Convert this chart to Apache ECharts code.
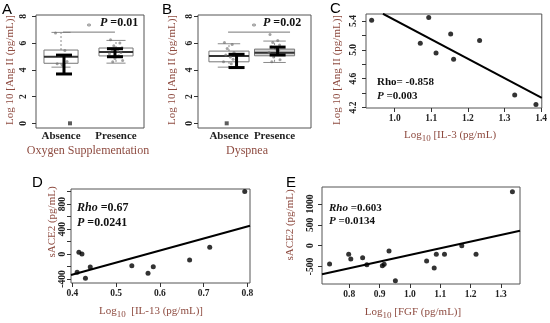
<!DOCTYPE html>
<html><head><meta charset="utf-8">
<script src="https://cdn.jsdelivr.net/npm/echarts@6/dist/echarts.min.js"></script>
<style>html,body{margin:0;padding:0;background:#fff}#c{width:550px;height:323px}</style>
</head><body><div id="c"></div>
<script>
// ---------- data ----------
const groups = ['Absence', 'Presence'];
// Panel A (Oxygen Supplementation): [lowerWhisker, Q1, median, Q3, upperWhisker]
const boxA = [[4.2, 4.49, 4.98, 5.48, 6.8], [4.5, 5.04, 5.33, 5.63, 6.2]];
const errA = [[3.69, 5.1], [4.98, 5.58]];       // error bar low/high
const errXA = [1.054, 1.981];
const ptsAabs = [6.75, 5.45, 5.0, 4.62, 4.45, 4.35];
const ptsApre = [6.25, 6.0, 5.8, 5.65, 5.5, 5.4, 5.3, 5.2, 5.05, 4.85, 4.7, 4.6];
const outA = [[1.163, 0]];
const sigA = [[1.036, 6.82], [1.981, 6.82]];
// Panel B (Dyspnea)
const boxB = [[4.2, 4.6, 5.04, 5.4, 5.95], [4.55, 5.05, 5.27, 5.55, 6.15]];
const errB = [[4.17, 5.16], [5.11, 5.7]];
const errXB = [1.166, 2.067];
const ptsBabs = [6.05, 5.9, 5.6, 5.3, 5.1, 4.95, 4.8, 4.6, 4.45];
const ptsBpre = [6.65, 6.2, 6.05, 5.85, 5.7, 5.55, 5.45, 5.3, 5.15, 4.95, 4.75, 4.6];
const outB = [[0.95, 0]];
const sigB = [[0.98, 6.82], [2.34, 6.82]];
// Panel C: Log10 IL-3 vs Log10 Ang II
const il3 = [0.937, 1.093, 1.070, 1.113, 1.153, 1.161, 1.232, 1.328, 1.386];
const angC = [5.41, 5.45, 5.09, 4.955, 5.22, 4.87, 5.13, 4.375, 4.24];
const fitC = [[0.968, 5.5], [1.402, 4.335]];
// Panel D: Log10 IL-13 vs sACE2
const il13 = [0.794, 0.415, 0.422, 0.411, 0.430, 0.441, 0.536, 0.573, 0.585, 0.668, 0.714];
const aceD = [1000, 27, 0, -293, -389, -208, -187, -309, -203, -96, 107];
const fitD = [[0.397, -336], [0.806, 453]];
// Panel E: Log10 FGF vs sACE2
const fgf = [1.338, 0.735, 0.798, 0.805, 0.844, 0.858, 0.909, 0.915, 0.931, 0.952, 1.055, 1.080, 1.087, 1.114, 1.171, 1.218];
const aceE = [1296, -439, -206, -319, -288, -456, -480, -447, -127, -840, -367, -535, -206, -206, 0, -206];
const fitE = [[0.71, -687], [1.363, 360]];
// tick values
const ticksAB = [0, 2, 4, 6, 8];
const ticksCx = [1.0, 1.1, 1.2, 1.3, 1.4];
const ticksCy = [4.2, 4.4, 4.6, 4.8, 5.0, 5.2, 5.4];
const labelsCy = [4.2, 4.6, 5.0, 5.4];
const ticksDx = [0.4, 0.5, 0.6, 0.7, 0.8];
const ticksDy = [-400, -200, 0, 200, 400, 600, 800, 1000];
const labelsDy = [-400, 0, 400, 800];
const ticksEx = [0.8, 0.9, 1.0, 1.1, 1.2, 1.3];
const ticksEy = [-500, 0, 500, 1000];

// ---------- helpers ----------
const SERIF = 'Liberation Serif';
const TITLE_COLOR = '#8e4b40';
const jit = [-0.1, 0.07, -0.04, 0.11, -0.07, 0.03, 0.09, -0.12, 0.05, -0.02, 0.12, -0.06];
const jitter = (vals, x) => vals.map((v, i) => [x + jit[i % jit.length], v]);

const lab = {fontFamily: SERIF, fontSize: 9.5, color: '#222', fontWeight: 'bold'};
const f1 = v => v.toFixed(1);
const f0 = v => String(Math.round(v));
function yAxisCfg(gi, min, max, ticks, labels, fmt, margin) {
  return {type: 'value', gridIndex: gi, min, max, axisLine: {show: false, onZero: false}, splitLine: {show: false},
    axisTick: {show: true, customValues: ticks, length: 4, lineStyle: {color: '#333'}},
    axisLabel: Object.assign({customValues: labels, rotate: 90, margin, formatter: fmt}, lab)};
}
function xAxisCfg(gi, min, max, ticks, labels, fmt) {
  return {type: 'value', gridIndex: gi, min, max, axisLine: {show: false, onZero: false}, splitLine: {show: false},
    axisTick: {show: true, customValues: ticks, length: 4, lineStyle: {color: '#333'}},
    axisLabel: Object.assign({customValues: labels, margin: 6, formatter: fmt}, lab)};
}
function catAxis(gi, min, max) {
  return {type: 'value', gridIndex: gi, min, max, axisLine: {show: false, onZero: false}, splitLine: {show: false},
    axisTick: {show: false},
    axisLabel: Object.assign({}, lab, {customValues: [1, 2], margin: 3, fontSize: 11, formatter: v => groups[Math.round(v) - 1]})};
}
function boxSeries(gi, data, halfW, fills) {
  return {type: 'custom', xAxisIndex: gi, yAxisIndex: gi, z: 2,
    data: data.map((d, i) => [i + 1].concat(d)),
    renderItem: (params, api) => {
      const x = api.value(0);
      const lo = api.coord([x, api.value(1)]), q1 = api.coord([x - halfW, api.value(2)]);
      const md = api.coord([x, api.value(3)]), q3 = api.coord([x + halfW, api.value(4)]);
      const hi = api.coord([x, api.value(5)]);
      const xc = md[0], xl = q1[0], xr = q3[0], cw = (xr - xl) * 0.28;
      const g = '#8a8a8a';
      return {type: 'group', children: [
        {type: 'line', shape: {x1: xc, y1: q3[1], x2: xc, y2: hi[1]}, style: {stroke: g, lineDash: [2, 2], lineWidth: 1}},
        {type: 'line', shape: {x1: xc, y1: q1[1], x2: xc, y2: lo[1]}, style: {stroke: g, lineDash: [2, 2], lineWidth: 1}},
        {type: 'line', shape: {x1: xc - cw, y1: hi[1], x2: xc + cw, y2: hi[1]}, style: {stroke: g, lineWidth: 1}},
        {type: 'line', shape: {x1: xc - cw, y1: lo[1], x2: xc + cw, y2: lo[1]}, style: {stroke: g, lineWidth: 1}},
        {type: 'rect', shape: {x: xl, y: q3[1], width: xr - xl, height: q1[1] - q3[1]}, style: {fill: fills[params.dataIndex], stroke: '#777', lineWidth: 1}},
        {type: 'line', shape: {x1: xl, y1: md[1], x2: xr, y2: md[1]}, style: {stroke: '#333', lineWidth: 2}}
      ]};
    }};
}
function errSeries(gi, data, xs) {
  return {type: 'custom', xAxisIndex: gi, yAxisIndex: gi, z: 4,
    data: data.map((d, i) => [xs[i], d[0], d[1]]),
    renderItem: (params, api) => {
      const a = api.coord([api.value(0), api.value(1)]), b = api.coord([api.value(0), api.value(2)]);
      const w = 8;
      const st = {stroke: '#000', lineWidth: 3};
      return {type: 'group', children: [
        {type: 'line', shape: {x1: a[0], y1: a[1], x2: b[0], y2: b[1]}, style: st},
        {type: 'line', shape: {x1: a[0] - w, y1: a[1], x2: a[0] + w, y2: a[1]}, style: st},
        {type: 'line', shape: {x1: b[0] - w, y1: b[1], x2: b[0] + w, y2: b[1]}, style: st}
      ]};
    }};
}
const ptStyle = {color: 'rgba(110,110,110,0.8)'};
function pts(gi, data) {
  return {type: 'scatter', xAxisIndex: gi, yAxisIndex: gi, z: 3, symbolSize: 3, itemStyle: ptStyle, data, silent: true};
}
function sig(gi, data) {
  return {type: 'line', xAxisIndex: gi, yAxisIndex: gi, z: 3, symbol: 'none', data,
    lineStyle: {color: '#777', width: 1}};
}
function scat(gi, xs, ys) {
  return {type: 'scatter', xAxisIndex: gi, yAxisIndex: gi, symbolSize: 5, itemStyle: {color: '#000'},
    data: xs.map((x, i) => [x, ys[i]])};
}
function fit(gi, data) {
  return {type: 'line', xAxisIndex: gi, yAxisIndex: gi, symbol: 'none', data,
    lineStyle: {color: '#000', width: 2}};
}

// ---------- graphic texts ----------
function txt(x, y, text, opt) {
  return {type: 'text', x, y, rotation: (opt && opt.rot) || 0, style: Object.assign({
    text, fontFamily: SERIF, fontSize: 11, fill: TITLE_COLOR, align: 'center', verticalAlign: 'middle'}, opt && opt.style)};
}
const sub = {
  rich: {a: {fontFamily: SERIF, fontSize: 11, fill: TITLE_COLOR, lineHeight: 16, verticalAlign: 'middle'},
         s: {fontFamily: SERIF, fontSize: 9, fill: TITLE_COLOR, lineHeight: 16, verticalAlign: 'bottom', padding: [6, 0, 0, 0]}}
};
const boldRich = (size) => ({
  fontFamily: SERIF, fontSize: size, fontWeight: 'bold', fill: '#111', align: 'left',
  rich: {i: {fontFamily: SERIF, fontSize: size, fontWeight: 'bold', fontStyle: 'italic', fill: '#111'},
         b: {fontFamily: SERIF, fontSize: size, fontWeight: 'bold', fill: '#111'}}
});
const letter = (x, y, t) => ({type: 'text', x, y, style: {text: t, fontFamily: 'Liberation Sans', fontSize: 15, fill: '#000'}});

const graphics = [
  letter(2, 2, 'A'), letter(162, 2, 'B'), letter(330, 1, 'C'), letter(32, 175, 'D'), letter(286, 175, 'E'),
  txt(10, 70, 'Log 10 [Ang II (pg/mL)]', {rot: Math.PI / 2}),
  txt(172, 70, 'Log 10 [Ang II (pg/mL)]', {rot: Math.PI / 2}),
  txt(337, 70, 'Log 10 [Ang II (pg/mL)]', {rot: Math.PI / 2}),
  txt(88, 151, 'Oxygen Supplementation', {style: {fontSize: 12}}),
  txt(247, 151, 'Dyspnea', {style: {fontSize: 12}}),
  txt(450, 135, '{a|Log}{s|10}{a| [IL-3 (pg/mL)}', {style: sub}),
  txt(151, 311, '{a|Log}{s|10}{a|  [IL-13 (pg/mL)]}', {style: sub}),
  txt(413, 312, '{a|Log}{s|10}{a| [FGF (pg/mL)]}', {style: sub}),
  txt(52, 222, 'sACE2 (pg/mL)', {rot: Math.PI / 2}),
  txt(290, 225, 'sACE2 (pg/mL)', {rot: Math.PI / 2}),
  txt(89, 27, '*', {style: {fill: '#777', fontSize: 10}}),
  txt(254, 27, '*', {style: {fill: '#777', fontSize: 10}}),
  {type: 'text', x: 100, y: 17, style: Object.assign(boldRich(12), {text: '{i|P}{b| =0.01}'})},
  {type: 'text', x: 263, y: 17, style: Object.assign(boldRich(12), {text: '{i|P}{b| =0.02}'})},
  {type: 'text', x: 377, y: 77, style: Object.assign(boldRich(11), {text: '{b|Rho= -0.858}'})},
  {type: 'text', x: 377, y: 91, style: Object.assign(boldRich(11), {text: '{i|P}{b| =0.003}'})},
  {type: 'text', x: 77, y: 202, style: Object.assign(boldRich(12), {text: '{i|Rho}{b| =0.67}'})},
  {type: 'text', x: 77, y: 217, style: Object.assign(boldRich(12), {text: '{i|P}{b| =0.0241}'})},
  {type: 'text', x: 329, y: 203, style: Object.assign(boldRich(11), {text: '{i|Rho}{b| =0.603}'})},
  {type: 'text', x: 329, y: 216, style: Object.assign(boldRich(11), {text: '{i|P}{b| =0.0134}'})}
];

const gridStyle = {show: true, borderColor: '#555', borderWidth: 1, backgroundColor: 'transparent', containLabel: false};
const option = {
  animation: false,
  backgroundColor: '#fff',
  grid: [
    Object.assign({left: 36, top: 15, width: 108, height: 113}, gridStyle),
    Object.assign({left: 198, top: 15, width: 113, height: 113}, gridStyle),
    Object.assign({left: 366, top: 14, width: 178, height: 94}, gridStyle),
    Object.assign({left: 71, top: 189, width: 179, height: 94}, gridStyle),
    Object.assign({left: 322, top: 187, width: 198, height: 97}, gridStyle)
  ],
  xAxis: [
    catAxis(0, 0.545, 2.509),
    catAxis(1, 0.32, 2.80),
    xAxisCfg(2, 0.9216, 1.402, ticksCx, ticksCx, f1),
    xAxisCfg(3, 0.397, 0.806, ticksDx, ticksDx, f1),
    xAxisCfg(4, 0.71, 1.363, ticksEx, ticksEx, f1)
  ],
  yAxis: [
    yAxisCfg(0, -0.35, 8.1, ticksAB, ticksAB, f0, 7),
    yAxisCfg(1, -0.35, 8.1, ticksAB, ticksAB, f0, 3),
    yAxisCfg(2, 4.193, 5.497, ticksCy, labelsCy, f1, 7),
    yAxisCfg(3, -464, 1040, ticksDy, labelsDy, f0, 3),
    yAxisCfg(4, -921, 1411, ticksEy, ticksEy, f0, 6)
  ],
  series: [
    boxSeries(0, boxA, 0.31, ['#fff', '#fff']),
    boxSeries(1, boxB, 0.44, ['#fff', '#d2d2d2']),
    pts(0, jitter(ptsAabs, 1).concat(jitter(ptsApre, 2))),
    pts(1, jitter(ptsBabs, 1).concat(jitter(ptsBpre, 2))),
    {type: 'scatter', xAxisIndex: 0, yAxisIndex: 0, symbol: 'rect', symbolSize: 4, itemStyle: {color: '#333'}, data: outA},
    {type: 'scatter', xAxisIndex: 1, yAxisIndex: 1, symbol: 'rect', symbolSize: 4, itemStyle: {color: '#333'}, data: outB},
    errSeries(0, errA, errXA),
    errSeries(1, errB, errXB),
    sig(0, sigA), sig(1, sigB),
    scat(2, il3, angC), fit(2, fitC),
    scat(3, il13, aceD), fit(3, fitD),
    scat(4, fgf, aceE), fit(4, fitE)
  ],
  graphic: graphics
};
const chart = echarts.init(document.getElementById('c'), null, {renderer: 'canvas'});
chart.setOption(option);
</script></body></html>
